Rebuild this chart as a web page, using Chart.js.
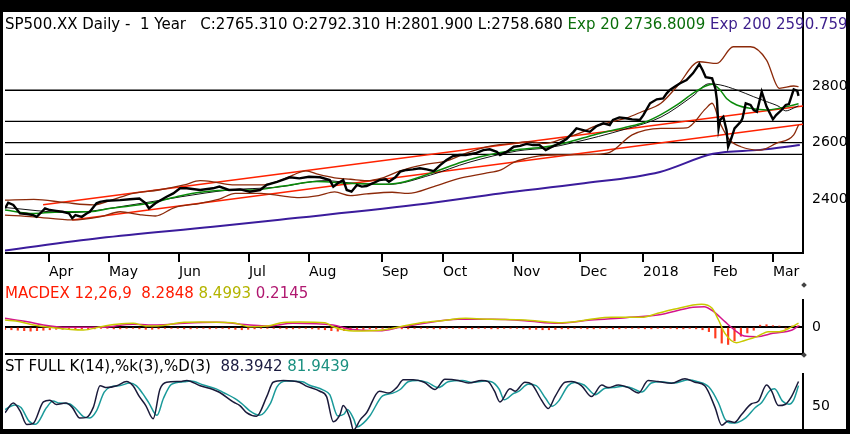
<!DOCTYPE html>
<html lang="en">
<head>
<meta charset="UTF-8">
<title>SP500.XX Daily - 1 Year</title>
<script src="https://cdn.jsdelivr.net/npm/chart.js@4.4.1/dist/chart.umd.min.js"></script>
<style>
    body { margin: 0; background: #000; width: 850px; height: 434px; overflow: hidden; }
    #marco { position: absolute; left: 3px; top: 12px; width: 843px; height: 417px; background: #fff; overflow: hidden; }
    #marco canvas { position: absolute; left: 2px; }
    .titulo { position: absolute; left: 2px; font: 15px "DejaVu Sans", sans-serif; line-height: 16px; white-space: pre; z-index: 2; }
    .divisor { position: absolute; width: 4px; height: 4px; background: #444; transform: rotate(45deg); z-index: 2; }
</style>
</head>
<body>
<div id="marco">
    <div class="titulo" style="top:4px">SP500.XX Daily -  1 Year   C:2765.310 O:2792.310 H:2801.900 L:2758.680 <span style="color:#0a6e0a">Exp 20 2736.8009</span> <span style="color:#3c1e8c">Exp 200 2590.759</span></div>
    <div class="titulo" style="top:273px;color:#ff1a00">MACDEX 12,26,9  8.2848 <span style="color:#b4b400">8.4993</span> <span style="color:#b01870">0.2145</span></div>
    <div class="titulo" style="top:346px">ST FULL K(14),%k(3),%D(3)  <span style="color:#1a1a40">88.3942</span> <span style="color:#1a9080">81.9439</span></div>
    <div class="divisor" style="left:799px;top:271px"></div>
    <div class="divisor" style="left:799px;top:341px"></div>
    <canvas id="precioChart" width="841" height="271" style="top:0"></canvas>
    <canvas id="macdChart" width="841" height="60" style="top:286px"></canvas>
    <canvas id="stochChart" width="841" height="61" style="top:358px"></canvas>
</div>
<script>
// Eje de tiempo: dias de negociacion desde mediados de marzo 2017
const xMax = 249.4;
const monthTickDays = [13.75, 32.5, 54.4, 76.25, 95, 117.8, 136.9, 158.75, 179.7, 199.4, 221.25, 240];
const monthLabels = ['Apr', 'May', 'Jun', 'Jul', 'Aug', 'Sep', 'Oct', 'Nov', 'Dec', '2018', 'Feb', 'Mar'];

// Cierre diario
const closeDays = [0, 1, 2.6, 4.7, 6.8, 8.8, 9.9, 11.5, 12.5, 14, 16, 18, 20, 21, 22, 24, 25.5, 26.5, 28.6, 29.7,
    31.8, 36, 39, 42, 44, 45, 47, 50.5, 52.6, 54.7, 56.8, 61, 65, 67, 70, 73.5, 76.5, 79.7, 81.8, 85,
    89, 92, 95, 98.5, 101.5, 102.6, 104, 105.7, 106.8, 108.3, 110, 111.5, 113, 115, 117, 119, 120, 122, 123.5, 125.5,
    127.5, 129.7, 131.8, 134, 136, 138, 140, 142, 144, 147, 149.5, 151.5, 153.7, 154.7, 156.8, 159, 161, 163, 165, 167,
    169, 171, 173.4, 175.5, 177.6, 178.6, 180.7, 182.8, 184.9, 187, 189, 190, 192, 194, 196, 198.4, 199.5, 201.6, 203.7, 205.7,
    206.8, 207.8, 209.4, 211, 213, 215, 217, 218, 219, 221, 222, 222.5, 223, 223.5, 224.5, 225.5, 226, 227, 228, 230,
    230.5, 231.5, 233, 234, 235, 236.5, 238, 240, 241, 242.7, 244, 245, 246.5, 247.6, 248];
const closeValues = [2367, 2387, 2379, 2349, 2347, 2343, 2337, 2355, 2367, 2361, 2358, 2355, 2349, 2332, 2343, 2337, 2349, 2355, 2385, 2390,
    2394, 2396, 2399, 2402, 2385, 2367, 2385, 2408, 2420, 2438, 2438, 2432, 2438, 2444, 2432, 2434, 2426, 2432, 2450, 2461,
    2477, 2473, 2479, 2477, 2467, 2444, 2456, 2467, 2432, 2426, 2450, 2444, 2446, 2456, 2467, 2470, 2461, 2477, 2497, 2503,
    2505, 2509, 2505, 2499, 2520, 2538, 2552, 2556, 2556, 2562, 2573, 2576, 2567, 2556, 2567, 2585, 2588, 2595, 2591, 2591,
    2573, 2585, 2598, 2612, 2637, 2650, 2644, 2638, 2658, 2668, 2662, 2680, 2689, 2686, 2682, 2680, 2697, 2739, 2753, 2756,
    2774, 2786, 2798, 2810, 2821, 2845, 2878, 2857, 2831, 2827, 2792, 2750, 2650, 2680, 2691, 2644, 2585, 2615, 2650, 2674,
    2686, 2739, 2733, 2715, 2709, 2780, 2727, 2682, 2697, 2715, 2733, 2736, 2788, 2783, 2765];

// Media exponencial 20 (verde)
const ema20Days = [0, 9, 19, 26.5, 33, 45, 55, 61, 71.5, 77.5, 87, 97.5, 107, 117, 123.5, 133, 143, 148.5, 159, 169,
    176.5, 184, 194, 199.5, 204.7, 210, 215, 219, 221, 223.5, 225.5, 228.7, 233, 238, 242, 246.5, 248];
const ema20Values = [2361, 2349, 2355, 2355, 2367, 2385, 2412, 2424, 2432, 2432, 2446, 2462, 2456, 2452, 2458, 2491, 2532, 2550, 2573, 2585,
    2603, 2627, 2654, 2670, 2697, 2733, 2774, 2800, 2806, 2786, 2756, 2733, 2721, 2715, 2721, 2733, 2737];

// Media simple 20 (linea negra fina)
const sma20Days = [0, 20, 40, 55, 70, 85, 100, 110, 120, 133, 145, 160, 170, 177, 194, 205, 215, 220, 223.5, 228.7,
    234, 238, 242, 244, 246.5, 248];
const sma20Values = [2370, 2352, 2380, 2408, 2432, 2442, 2465, 2455, 2452, 2485, 2530, 2570, 2582, 2598, 2648, 2690, 2765, 2808, 2804, 2786,
    2762, 2745, 2727, 2712, 2722, 2730];

// Bandas de Bollinger (marron)
const bandUpperDays = [0, 9, 19, 27.6, 33, 40, 48, 56, 61, 65, 71, 80, 85, 90, 94, 98, 103, 108, 113, 118,
    123.5, 131, 138, 144, 150.5, 159, 164, 169, 174, 180, 184, 194, 199, 205, 210, 217, 222.5, 227.6, 233, 238,
    242, 246.5, 248];
const bandUpperValues = [2396, 2399, 2387, 2379, 2395, 2420, 2432, 2450, 2465, 2461, 2450, 2450, 2461, 2485, 2500, 2487, 2475, 2470, 2465, 2475,
    2500, 2522, 2535, 2562, 2585, 2597, 2603, 2597, 2612, 2635, 2656, 2686, 2709, 2739, 2798, 2886, 2880, 2939, 2939, 2892,
    2792, 2800, 2798];
const bandLowerDays = [0, 9, 21, 30, 36, 42, 47, 53, 61, 67, 72, 80, 87, 92, 98, 103, 108, 113, 121, 126,
    134, 142, 150, 155, 159, 163, 167, 173, 184, 189, 196, 205, 213, 219, 221, 223.5, 226.5, 230, 236, 241,
    246.5, 248];
const bandLowerValues = [2343, 2337, 2326, 2338, 2355, 2345, 2340, 2370, 2385, 2400, 2420, 2420, 2410, 2405, 2412, 2425, 2412, 2418, 2424, 2420,
    2444, 2473, 2491, 2503, 2530, 2544, 2553, 2556, 2558, 2565, 2627, 2650, 2652, 2720, 2739, 2668, 2609, 2585, 2573, 2597,
    2627, 2662];

// Media exponencial 200 (morado)
const ema200Days = [0, 29.7, 65, 85.9, 131.3, 154.7, 179.7, 204.7, 221.3, 236, 248.4];
const ema200Values = [2218, 2262, 2302, 2327, 2383, 2420, 2454, 2496, 2560, 2574, 2591];

// Canal de tendencia (rojo) y niveles horizontales
const upperTrendDays = [11.9, 249.4];
const upperTrendValues = [2380, 2729];
const lowerTrendDays = [21, 249.4];
const lowerTrendValues = [2326, 2665];
const levelValues = [2785, 2675, 2600, 2558];
const priceTicks = [2400, 2600, 2800];

// MACD
const macdDays = [0, 4.7, 9, 14, 24.5, 30, 35, 40, 44, 47.5, 56, 61, 71, 76.5, 82, 87, 92, 100, 102.5, 109,
    118, 123.5, 131, 136.5, 144, 152, 162.5, 173, 178, 183, 189.6, 199, 204, 209, 217.7, 221, 223, 225, 228.6, 231,
    235, 238.5, 242, 246, 248];
const macdValues = [15, 11.6, 4.3, -0.7, -6.5, 0.7, 5.8, 8, 2.2, 2.2, 10.1, 11, 9.4, 0.7, 2, 10, 11, 9.4, 0.7, -8.7,
    -6.5, 0.7, 10.1, 13.8, 18.8, 16.7, 15.2, 9.4, 11.6, 16.7, 21, 21, 29.7, 38.4, 49.3, 40.6, 15.2, -13.8, -34, -29.7,
    -21, -10.1, -10.1, 0.7, 8.5];
const signalDays = [0, 7, 12, 19.3, 30, 40, 47.5, 56, 66, 76.5, 82, 90, 102.5, 108, 117, 123.5, 131, 141.5, 152, 162.5,
    173, 183, 194, 204, 215, 218.5, 221.5, 225, 228, 231, 235, 240, 246, 248];
const signalValues = [18.8, 11.6, 4.3, -0.7, -0.7, 5.8, 4.3, 8, 10.1, 4.3, 2.2, 8, 4.3, -5, -8, -0.7, 8, 16.7, 16.7, 13.8,
    8, 15.2, 20.3, 26.1, 42.8, 44.2, 33.3, 11.6, -6.5, -19.6, -21, -13.8, -6.5, 2];
// Histograma, una barra cada dos dias
const histValues = [-5, -6, -7, -8, -9, -8, -7, -6, -5, -5, -4, -4,
    -4, -5, -4, -3, -3, -4, -4, -3, -3, -4, -5, -5,
    -4, -3, -3, -3, -4, -4, -3, -3, -4, -3, -3, -4,
    -5, -6, -5, -4, -3, -3, -3, -3, -4, -4, -3, -3,
    -4, -5, -6, -8, -9, -8, -7, -6, -5, -4, -4, -3,
    -3, -3, -4, -4, -3, -3, -3, -4, -4, -3, -3, -3,
    -4, -4, -3, -3, -4, -4, -3, -3, -3, -4, -5, -5,
    -6, -6, -5, -4, -4, -3, -3, -4, -4, -3, -3, -4,
    -4, -3, -3, -3, -4, -4, -3, -3, -3, -4, -4, -3,
    -4, -6, -10, -24, -35, -38, -30, -20, -13, -7, 4, 5,
    3, 2, -3, 2, 3];
const histDays = histValues.map((v, k) => k * 2);

// Estocastico
const stochKDays = [0, 2.6, 4.7, 6.8, 8.8, 12, 14, 16, 19, 21, 23.4, 25.5, 27.6, 29.7, 31.8, 34.9, 38, 40, 42, 44,
    46.3, 48.4, 50.5, 54.7, 56.8, 61, 65, 67, 71.3, 73.4, 75.5, 78.6, 81.8, 83.8, 87, 92, 94, 98.4, 100.5, 102.6,
    104.7, 105.7, 107.8, 108.9, 111, 113, 117, 120, 122.4, 124.5, 127.6, 131, 134.4, 137.5, 141.7, 144.8, 149, 151, 153, 154.7,
    157.8, 159.4, 162.5, 164.6, 167.7, 169.8, 171.9, 175, 177, 180.2, 183.3, 186.5, 188.5, 191.7, 194.8, 198, 201, 204, 208.3, 212.5,
    215.6, 218.7, 221.9, 224, 226, 228, 230.2, 233.3, 235.4, 238, 239.6, 241.7, 243.8, 245.8, 248];
const stochKValues = [40, 55, 42.8, 21.7, 23.3, 56.7, 59.4, 52.8, 55, 48.3, 31.7, 32.8, 48.3, 81.7, 78.9, 81.7, 88.3, 81.7, 65, 51.1,
    30.6, 76.1, 87.2, 88.3, 90, 81.7, 76.1, 71.7, 56.7, 51.1, 40, 34.4, 65, 87.2, 90, 87.2, 81.7, 73.3, 65, 26.1,
    37.2, 51.1, 31.7, 13.3, 28.9, 40, 73.3, 70.6, 78.9, 91.1, 91.1, 87.2, 76.1, 91.7, 90, 86.1, 90, 88.3, 73.3, 56.7,
    77.2, 73.3, 87.2, 84.4, 59.4, 46.7, 65, 87.2, 88.3, 81.7, 65, 82.8, 78.9, 82.8, 78.9, 70.6, 90, 88.3, 85.6, 92.8,
    87.2, 81.7, 48.3, 20.6, 27.2, 25, 37.2, 53.9, 57.8, 82.8, 73.3, 51.1, 52.8, 65, 88.4];
const stochDDays = [0, 3, 5, 7.5, 9.5, 13, 15, 17, 20, 22, 24.5, 26.5, 28.5, 31, 33, 36, 39, 41, 43, 45,
    47.5, 49.5, 52, 56, 58, 62, 66, 68, 72.5, 74.5, 76.5, 79.6, 83, 85, 88, 93, 95, 99.5, 101.5, 104,
    106, 107, 109, 110, 112, 114, 118, 121, 123.5, 126, 129, 132, 135.5, 138.5, 143, 146, 150, 152, 154.5, 156,
    159, 160.5, 163.5, 166, 169, 171, 173, 176, 178, 181, 184.5, 187.5, 190, 193, 196, 199, 202, 205, 209, 213.5,
    216.5, 220, 223, 225, 227, 229, 231.5, 234.5, 236.5, 239, 240.5, 243, 245, 246.5, 248];
const stochDValues = [45, 52, 48, 27, 22, 48, 58, 55, 54, 47, 34, 32, 42, 72, 80, 82, 86, 82, 70, 55,
    36, 62, 84, 88, 89, 83, 77, 72, 60, 52, 43, 36, 55, 80, 89, 88, 83, 75, 68, 35,
    38, 45, 30, 18, 24, 35, 66, 70, 76, 88, 90, 87, 79, 88, 90, 87, 89, 88, 76, 60,
    70, 73, 84, 82, 62, 50, 58, 82, 87, 83, 68, 78, 79, 81, 78, 72, 86, 88, 86, 91,
    88, 80, 55, 30, 24, 25, 32, 48, 56, 74, 77, 58, 53, 60, 82];

const fontFamily = '"DejaVu Sans", sans-serif';

// Une dias y valores en puntos {x, y}
function toPoints(days, values) {
    return days.map((d, k) => ({ x: d, y: values[k] }));
}

// Dataset de linea sin puntos
function lineSet(days, values, color, width, smooth) {
    return {
        type: 'line',
        data: toPoints(days, values),
        borderColor: color,
        borderWidth: width,
        pointRadius: 0,
        fill: false,
        tension: smooth ? 0.4 : 0,
        cubicInterpolationMode: smooth ? 'monotone' : 'default'
    };
}

// Eje x comun a los tres paneles
function timeAxis(height, showMonths) {
    return {
        type: 'linear',
        min: 0,
        max: xMax,
        offset: false,
        afterBuildTicks: function (scale) {
            scale.ticks = monthTickDays.map(v => ({ value: v }));
        },
        afterFit: function (scale) {
            scale.height = height;
            scale.paddingLeft = 0;
            scale.paddingRight = 0;
        },
        grid: {
            display: showMonths,
            drawOnChartArea: false,
            drawTicks: true,
            tickLength: 9,
            color: '#000',
            lineWidth: 2
        },
        border: { display: true, color: '#000', width: 2 },
        ticks: {
            display: showMonths,
            autoSkip: false,
            maxRotation: 0,
            align: 'start',
            padding: 2,
            color: '#000',
            font: { family: fontFamily, size: 14 },
            callback: function (value, index) {
                return monthLabels[index];
            }
        }
    };
}

// Eje y a la derecha con marcas fijas
function valueAxis(min, max, tickValues, zeroLine) {
    return {
        position: 'right',
        min: min,
        max: max,
        afterBuildTicks: function (scale) {
            scale.ticks = tickValues.map(v => ({ value: v }));
        },
        afterFit: function (scale) {
            // ancho fijo y sin relleno extra arriba/abajo
            scale.width = 43;
            scale.paddingTop = 0;
            scale.paddingBottom = 0;
        },
        grid: {
            display: zeroLine,
            drawOnChartArea: zeroLine,
            drawTicks: false,
            color: '#000',
            lineWidth: 2
        },
        border: { display: true, color: '#000', width: 2 },
        ticks: {
            padding: 9,
            color: '#000',
            font: { family: fontFamily, size: 14 },
            callback: function (value) {
                return String(value);
            }
        }
    };
}

function baseOptions(scales, padTop) {
    return {
        responsive: false,
        animation: false,
        layout: { padding: { top: padTop, left: 0, right: 0, bottom: 0 } },
        plugins: { legend: { display: false }, tooltip: { enabled: false } },
        scales: scales
    };
}

// Panel principal de precios
function createPriceChart() {
    const datasets = [
        lineSet(closeDays, closeValues, '#000', 2.4, false),
        lineSet(ema20Days, ema20Values, '#0a8a0a', 1.5, true),
        lineSet(sma20Days, sma20Values, '#111', 1, true),
        lineSet(bandUpperDays, bandUpperValues, '#8c2a0a', 1.3, true),
        lineSet(bandLowerDays, bandLowerValues, '#8c2a0a', 1.3, true),
        lineSet(upperTrendDays, upperTrendValues, '#ff2200', 1.5, false),
        lineSet(lowerTrendDays, lowerTrendValues, '#ff2200', 1.5, false),
        lineSet(ema200Days, ema200Values, '#3b1c9c', 2, true)
    ];
    levelValues.forEach(function (level) {
        datasets.push(lineSet([0, xMax], [level, level], '#000', 1.3, false));
    });

    new Chart(document.getElementById('precioChart'), {
        type: 'line',
        data: { datasets: datasets },
        options: baseOptions({
            x: timeAxis(30, true),
            y: valueAxis(2209, 3062, priceTicks, false)
        }, 0)
    });
}

// Panel MACD
function createMacdChart() {
    new Chart(document.getElementById('macdChart'), {
        type: 'line',
        data: {
            datasets: [
                lineSet(macdDays, macdValues, '#c8c800', 1.5, true),
                lineSet(signalDays, signalValues, '#d4148c', 1.5, true),
                {
                    type: 'bar',
                    data: toPoints(histDays, histValues),
                    backgroundColor: '#ff3b1f',
                    borderWidth: 0,
                    barThickness: 1.5,
                    grouped: false
                }
            ]
        },
        options: baseOptions({
            x: timeAxis(4, false),
            y: valueAxis(-58.7, 58.7, [0], true)
        }, 2)
    });
}

// Panel estocastico
function createStochChart() {
    new Chart(document.getElementById('stochChart'), {
        type: 'line',
        data: {
            datasets: [
                lineSet(stochKDays, stochKValues, '#1a1a3a', 1.5, true),
                lineSet(stochDDays, stochDValues, '#1a9a9a', 1.5, true)
            ]
        },
        options: baseOptions({
            x: timeAxis(0, false),
            y: valueAxis(11.7, 100, [50], false)
        }, 4)
    });
}

document.addEventListener('DOMContentLoaded', function () {
    createPriceChart();
    createMacdChart();
    createStochChart();
});
</script>
</body>
</html>
